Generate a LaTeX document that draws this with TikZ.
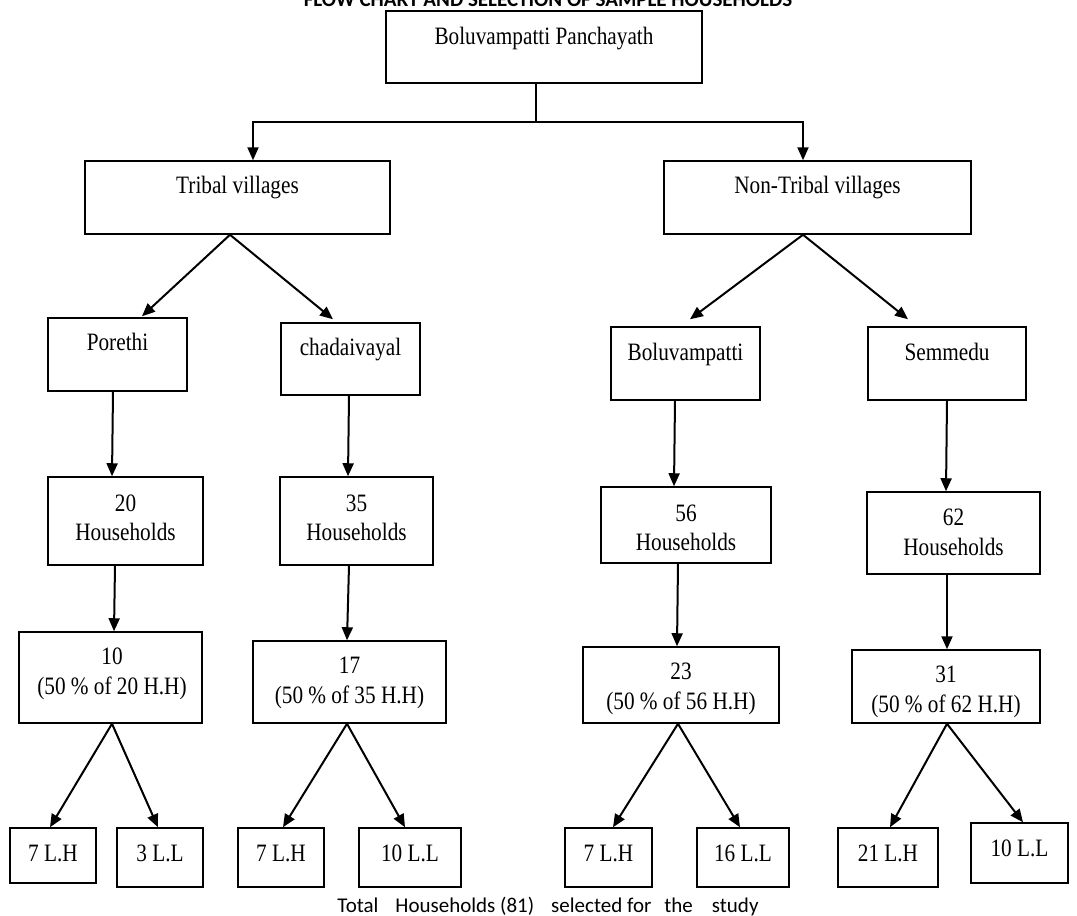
\documentclass[tikz,border=0pt]{standalone}
\usepackage{fontspec}
\setmainfont{Liberation Serif}[FakeStretch=0.85]
\newfontfamily\calib{Carlito}
\usetikzlibrary{arrows.meta}
\tikzset{
  bx/.style={draw=black, line width=1.5pt, fill=white, inner sep=0pt, rectangle},
  txt/.style={inner sep=0pt, anchor=base, font=\fontsize{25}{29}\selectfont},
  ln/.style={line width=2pt, draw=black},
  arr/.style={line width=2pt, draw=black, -{Triangle[length=13pt,width=11pt]}},
}
\newcommand{\mybox}[6]{% name, x1, y1, x2, y2
  \node[bx, minimum width={(#4-#2)*1pt}, minimum height={(#5-#3)*1pt}] (#1) at ({(#2+#4)/2},{(#3+#5)/2}) {};
}
\begin{document}
\begin{tikzpicture}[x=1pt,y=-1pt]
\useasboundingbox (0,0) rectangle (1077,916);
% title (partly cut at the top edge, as in the reference)
\node[inner sep=0pt, anchor=base, font=\calib\bfseries\fontsize{21}{24}\selectfont] (title) at (548,6) {FLOW CHART AND SELECTION OF SAMPLE HOUSEHOLDS};
% boxes
\mybox{pan}{386}{11}{702}{83}{}
\mybox{tv}{85}{161}{390}{234}{}
\mybox{ntv}{664}{161}{971}{234}{}
\mybox{por}{48}{318}{187}{391}{}
\mybox{cha}{281}{323}{420}{395}{}
\mybox{bol}{611}{327}{760}{400}{}
\mybox{sem}{868}{327}{1026}{400}{}
\mybox{h20}{48}{477}{203}{565}{}
\mybox{h35}{280}{477}{433}{565}{}
\mybox{h56}{601}{487}{771}{563}{}
\mybox{h62}{867}{492}{1040}{574}{}
\mybox{s10}{19}{632}{202}{723}{}
\mybox{s17}{253}{641}{446}{723}{}
\mybox{s23}{583}{647}{779}{723}{}
\mybox{s31}{852}{650}{1040}{723}{}
\mybox{b1}{10}{828}{96}{883}{}
\mybox{b2}{117}{828}{203}{887}{}
\mybox{b3}{238}{828}{324}{887}{}
\mybox{b4}{359}{828}{461}{887}{}
\mybox{b5}{565}{828}{652}{887}{}
\mybox{b6}{697}{828}{789}{887}{}
\mybox{b7}{838}{828}{938}{887}{}
\mybox{b8}{971}{823}{1068}{883}{}
% texts
\node[txt] (pan-t) at ([yshift=-34pt]pan.north) {Boluvampatti Panchayath};
\node[txt] (tv-t) at ([yshift=-33pt]tv.north) {Tribal villages};
\node[txt] (ntv-t) at ([yshift=-33pt]ntv.north) {Non-Tribal villages};
\node[txt] (por-t) at ([yshift=-33pt]por.north) {Porethi};
\node[txt] (cha-t) at ([yshift=-33pt]cha.north) {chadaivayal};
\node[txt] (bol-t) at ([yshift=-34pt]bol.north) {Boluvampatti};
\node[txt] (sem-t) at ([yshift=-34pt]sem.north) {Semmedu};
\node[txt] (h20-a) at ([yshift=-35pt]h20.north) {20};
\node[txt] (h20-b) at ([yshift=-64pt]h20.north) {Households};
\node[txt] (h35-a) at ([yshift=-35pt]h35.north) {35};
\node[txt] (h35-b) at ([yshift=-64pt]h35.north) {Households};
\node[txt] (h56-a) at ([yshift=-35pt]h56.north) {56};
\node[txt] (h56-b) at ([yshift=-64pt]h56.north) {Households};
\node[txt] (h62-a) at ([yshift=-34pt]h62.north) {62};
\node[txt] (h62-b) at ([yshift=-64pt]h62.north) {Households};
\node[txt] (s10-a) at ([xshift=1.5pt,yshift=-33pt]s10.north) {10};
\node[txt] (s10-b) at ([xshift=1.5pt,yshift=-63pt]s10.north) {(50 \% of 20 H.H)};
\node[txt] (s17-a) at ([yshift=-33pt]s17.north) {17};
\node[txt] (s17-b) at ([yshift=-63pt]s17.north) {(50 \% of 35 H.H)};
\node[txt] (s23-a) at ([yshift=-33pt]s23.north) {23};
\node[txt] (s23-b) at ([yshift=-63pt]s23.north) {(50 \% of 56 H.H)};
\node[txt] (s31-a) at ([yshift=-33pt]s31.north) {31};
\node[txt] (s31-b) at ([yshift=-63pt]s31.north) {(50 \% of 62 H.H)};
\node[txt] (b1-t) at ([yshift=-34pt]b1.north) {7 L.H};
\node[txt] (b2-t) at ([yshift=-34pt]b2.north) {3 L.L};
\node[txt] (b3-t) at ([yshift=-34pt]b3.north) {7 L.H};
\node[txt] (b4-t) at ([yshift=-34pt]b4.north) {10 L.L};
\node[txt] (b5-t) at ([yshift=-34pt]b5.north) {7 L.H};
\node[txt] (b6-t) at ([yshift=-34pt]b6.north) {16 L.L};
\node[txt] (b7-t) at ([yshift=-34pt]b7.north) {21 L.H};
\node[txt] (b8-t) at ([yshift=-34pt]b8.north) {10 L.L};
% connectors
\draw[ln] ([xshift=-8pt]pan.south) -- ++(0,38) coordinate (j);
\draw[arr] (j) -| ([xshift=15.5pt]tv.north);
\draw[arr] (j) -| ([xshift=-14.5pt]ntv.north);
\draw[arr] ([xshift=-7.5pt]tv.south) -- ([xshift=24.5pt,yshift=1pt]por.north);
\draw[arr] ([xshift=-7.5pt]tv.south) -- ([xshift=-17.5pt,yshift=3pt]cha.north);
\draw[arr] ([xshift=-14.5pt]ntv.south) -- ([xshift=4.5pt,yshift=7pt]bol.north);
\draw[arr] ([xshift=-14.5pt]ntv.south) -- ([xshift=-39pt,yshift=7pt]sem.north);
\draw[arr] ([xshift=-4.5pt]por.south) -- ([xshift=-13.5pt]h20.north);
\draw[arr] ([xshift=-1.5pt]cha.south) -- ([xshift=-8.5pt]h35.north);
\draw[arr] ([xshift=-10.5pt]bol.south) -- ([xshift=-12pt]h56.north);
\draw[arr] (sem.south) -- ([xshift=-7.5pt]h62.north);
\draw[arr] ([xshift=-10.5pt]h20.south) -- ([xshift=3.5pt]s10.north);
\draw[arr] ([xshift=-7.5pt]h35.south) -- ([xshift=-2.5pt]s17.north);
\draw[arr] ([xshift=-8pt]h56.south) -- ([xshift=-4pt]s23.north);
\draw[arr] ([xshift=-6.5pt]h62.south) -- ([xshift=1pt]s31.north);
\draw[arr] ([xshift=1.5pt]s10.south) -- ([xshift=-3pt]b1.north);
\draw[arr] ([xshift=1.5pt]s10.south) -- ([xshift=-2pt]b2.north);
\draw[arr] ([xshift=-2.5pt]s17.south) -- ([xshift=2pt]b3.north);
\draw[arr] ([xshift=-2.5pt]s17.south) -- ([xshift=-5pt]b4.north);
\draw[arr] ([xshift=-3pt]s23.south) -- ([xshift=4.5pt]b5.north);
\draw[arr] ([xshift=-3pt]s23.south) -- ([xshift=-3pt]b6.north);
\draw[arr] ([xshift=1pt]s31.south) -- ([xshift=2pt]b7.north);
\draw[arr] ([xshift=1pt]s31.south) -- ([xshift=3.5pt]b8.north);
% footer
\node[inner sep=0pt, anchor=base, font=\calib\fontsize{21}{24}\selectfont] (foot) at (548,912) {Total\hspace{17pt}Households (81)\hspace{17pt}selected for\hspace{13pt}the\hspace{19pt}study};
\end{tikzpicture}
\end{document}
